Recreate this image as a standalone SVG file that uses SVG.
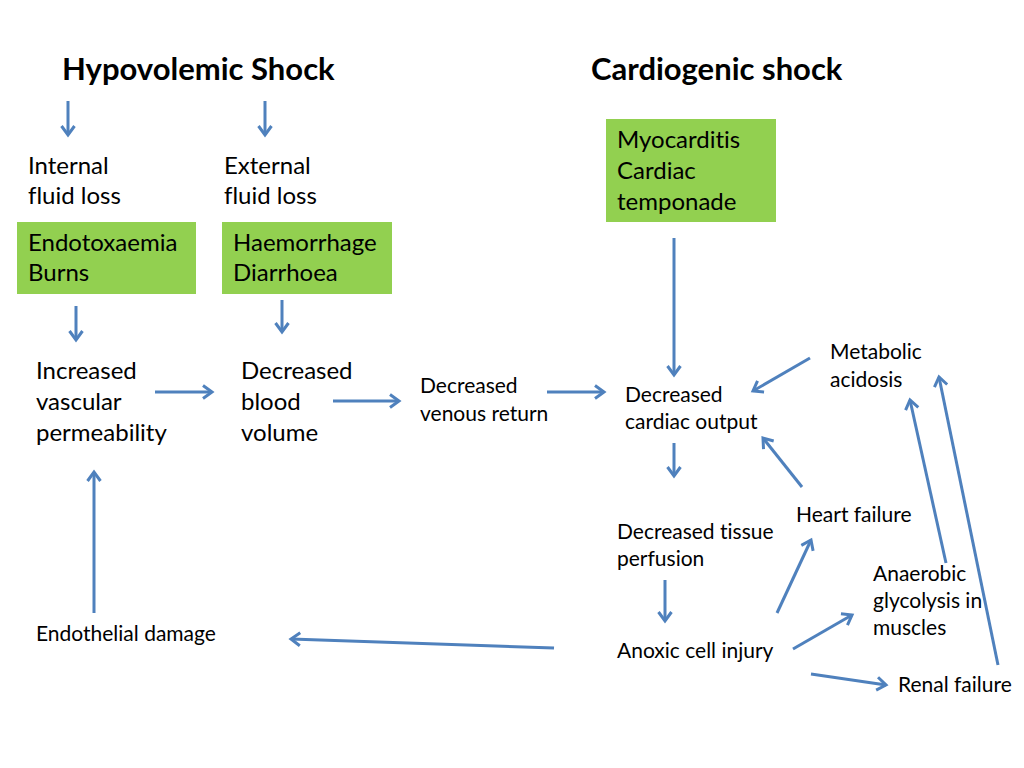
<svg xmlns="http://www.w3.org/2000/svg" width="1024" height="768" viewBox="0 0 1024 768">
<style>
text{font-family:Lato,"Open Sans","Liberation Sans",sans-serif;fill:#000;font-variant-ligatures:none;}
.t{font-size:31px;font-weight:bold;}
.m{font-size:24px;}
.s{font-size:21px;}
.box{fill:#92D050;}
.c line{stroke:#4F81BD;stroke-width:3;marker-end:url(#ah);}
</style>
<defs>
<marker id="ah" viewBox="0 0 16 16" refX="13" refY="8" markerWidth="16" markerHeight="16" markerUnits="userSpaceOnUse" orient="auto">
<path d="M4,1.5 L13,8 L4,14.5" fill="none" stroke="#4F81BD" stroke-width="3"/>
</marker>
</defs>
<rect width="1024" height="768" fill="#fff"/>
<g id="title-hypo"><text class="t" x="62" y="80">Hypovolemic Shock</text></g>
<g id="title-cardio"><text class="t" x="591" y="80">Cardiogenic shock</text></g>
<g id="internal"><text class="m" x="28" y="174">Internal</text><text class="m" x="28" y="204">fluid loss</text></g>
<g id="external"><text class="m" x="224" y="174">External</text><text class="m" x="224" y="204">fluid loss</text></g>
<g id="box-endo"><rect class="box" x="17" y="222" width="179" height="72"/><text class="m" x="28" y="251">Endotoxaemia</text><text class="m" x="28" y="281">Burns</text></g>
<g id="box-haem"><rect class="box" x="222" y="222" width="170" height="72"/><text class="m" x="233" y="251">Haemorrhage</text><text class="m" x="233" y="281">Diarrhoea</text></g>
<g id="box-myo"><rect class="box" x="606" y="119" width="170" height="103"/><text class="m" x="617" y="148">Myocarditis</text><text class="m" x="617" y="179">Cardiac</text><text class="m" x="617" y="210">temponade</text></g>
<g id="increased"><text class="m" x="36" y="379">Increased</text><text class="m" x="36" y="410">vascular</text><text class="m" x="36" y="441">permeability</text></g>
<g id="blood"><text class="m" x="241" y="379">Decreased</text><text class="m" x="241" y="410">blood</text><text class="m" x="241" y="441">volume</text></g>
<g id="venous"><text class="s" x="420" y="393">Decreased</text><text class="s" x="420" y="421">venous return</text></g>
<g id="cardiac"><text class="s" x="625" y="402">Decreased</text><text class="s" x="625" y="429">cardiac output</text></g>
<g id="metabolic"><text class="s" x="830" y="359">Metabolic</text><text class="s" x="830" y="387">acidosis</text></g>
<g id="heart"><text class="s" x="796" y="522">Heart failure</text></g>
<g id="tissue"><text class="s" x="617" y="539">Decreased tissue</text><text class="s" x="617" y="566">perfusion</text></g>
<g id="anoxic"><text class="s" x="617" y="658">Anoxic cell injury</text></g>
<g id="anaerobic"><text class="s" x="873" y="581">Anaerobic</text><text class="s" x="873" y="608">glycolysis in</text><text class="s" x="873" y="635">muscles</text></g>
<g id="renal"><text class="s" x="898" y="692">Renal failure</text></g>
<g id="endothelial"><text class="s" x="36" y="641">Endothelial damage</text></g>
<g id="connectors" class="c">
<line x1="68" y1="101" x2="68" y2="135"/>
<line x1="265" y1="101" x2="265" y2="135"/>
<line x1="76" y1="306" x2="76" y2="340"/>
<line x1="282" y1="300" x2="282" y2="332"/>
<line x1="155" y1="392" x2="212" y2="392"/>
<line x1="333" y1="401" x2="399" y2="401"/>
<line x1="547" y1="392" x2="604" y2="392"/>
<line x1="674" y1="238" x2="674" y2="375"/>
<line x1="810" y1="358" x2="753" y2="391"/>
<line x1="674" y1="443" x2="674" y2="476"/>
<line x1="802" y1="487" x2="763" y2="438"/>
<line x1="665" y1="580" x2="665" y2="621"/>
<line x1="777" y1="613" x2="811" y2="540"/>
<line x1="793" y1="649" x2="852" y2="615"/>
<line x1="811" y1="674" x2="886" y2="685"/>
<line x1="946" y1="563" x2="910" y2="400"/>
<line x1="998" y1="665" x2="939" y2="377"/>
<line x1="94" y1="613" x2="94" y2="472"/>
<line x1="554" y1="648" x2="291" y2="639"/>
</g>
</svg>
